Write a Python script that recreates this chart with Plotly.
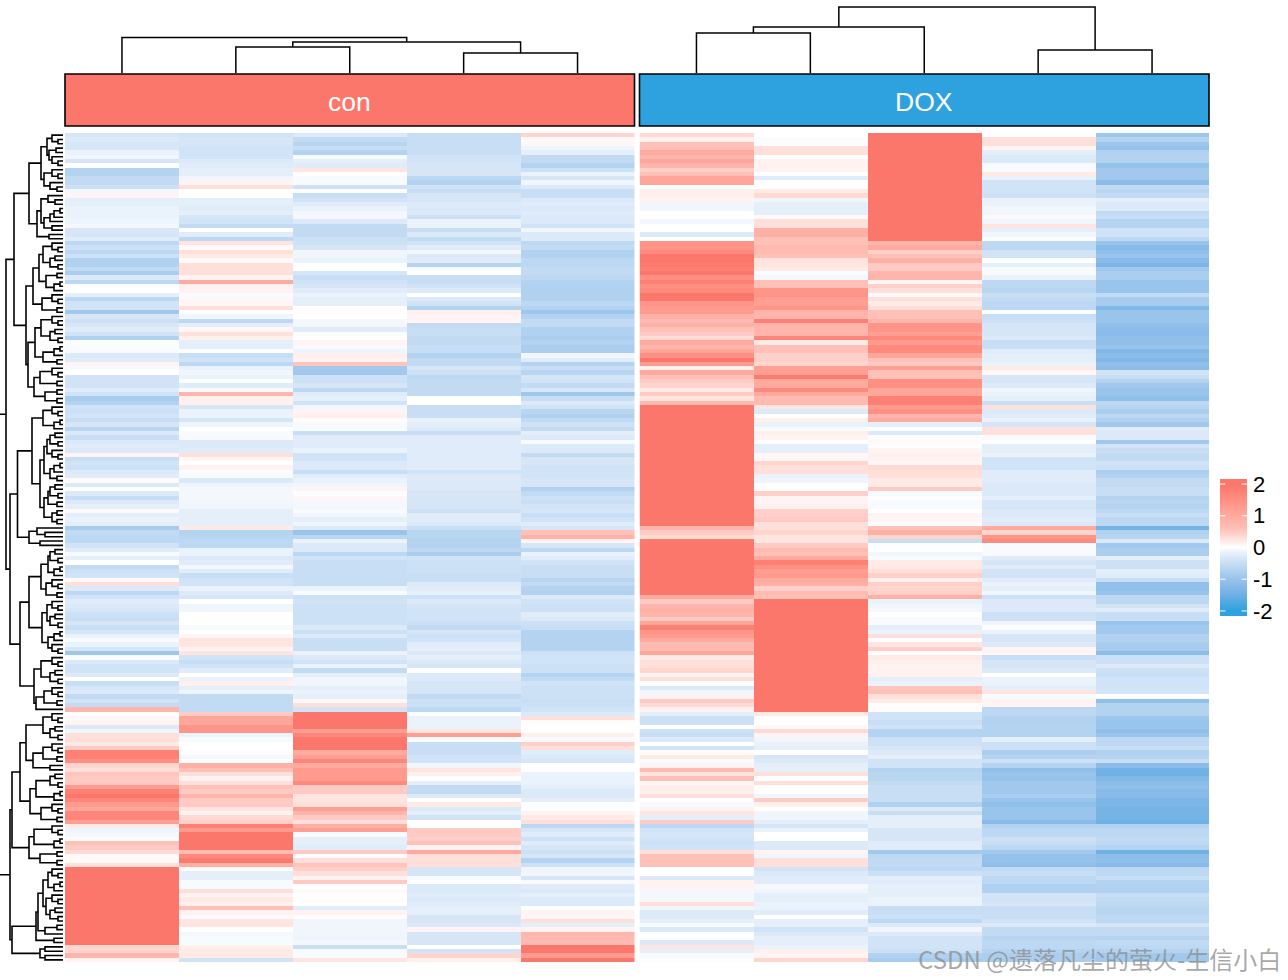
import numpy as np
import plotly.graph_objects as go

W, H = 1288, 980

con1 = [-.35,-.3,-.35,-.35,-.15,-.1,-.35,0,-.7,-.7,-.55,-.55,-.45,-.08,.1,-.2,-.2,-.15,-.15,-.15,-.12,-.08,-.35,-.35,-.25,-.6,-.45,-.6,-.45,-.75,-.75,-.55,-.8,-.3,-.6,.02,0,-.2,-.6,-.4,-.4,-.9,-.35,-.45,-.35,-.25,-.4,
 -.75,-.03,-.03,-.05,-.3,-.25,.1,-.05,0,-.4,-.4,-.4,-.25,-.4,-.85,-.7,-.4,-.45,-.4,-.5,-.35,-.65,-.3,-.5,-.3,-.25,-.3,.1,-.5,-.4,-.45,-.3,-.25,.05,-.3,0,-.3,-.5,-.3,-.2,.06,-.2,-.15,-.2,-.85,-.55,-.6,-.6,-.4,
 -.25,-.05,-.2,0,-.55,-.45,-.4,.05,.3,-.3,-.6,-.4,-.25,-.3,-.35,-.45,-.5,-.35,-.5,-.35,-.15,-.05,-.15,-.35,-.95,-.02,-.3,-.4,-.4,-.3,0,-.5,-.35,-.3,-.55,-.4,-.55,.8,.02,.05,.1,-.3,-.1,.3,.3,.2,.5,1.8,
 1.8,1.5,.4,.3,.55,.5,.5,1.3,1.8,2,1.7,1.3,1.1,1.7,1.7,1.2,.2,-.12,-.08,.03,.6,.5,.35,.05,.05,.3] + [2.15]*18 + [.4,.4,.8,.1]
con2 = [-.4,-.35,-.35,-.4,-.4,-.4,-.3,-.25,-.2,-.2,-.1,.1,.3,0,0,-.2,-.2,-.25,-.2,-.35,-.4,-.55,0,-.25,-.6,.25,.05,.3,.2,.05,.3,.3,.3,.12,1.0,.12,.12,-.05,.08,.08,.3,0,-.1,-.6,-.2,.08,.28,
 .15,-.2,-.2,-.02,-.5,-.4,-.6,-.15,-.1,-.15,-.02,-.25,-.05,.8,.15,.15,-.35,-.15,-.15,-.35,-.12,0,-.05,-.05,-.3,-.3,-.25,.3,.08,0,.12,-.04,-.05,-.3,-.12,-.08,-.08,-.08,-.1,-.1,-.2,-.2,-.2,-.2,.2,-.7,-.65,-.6,-.6,
 -.15,-.15,-.3,-.25,-.08,-.25,-.5,-.4,-.4,-.15,-.3,-.35,0,-.12,-.1,0,0,0,-.05,0,.08,.25,.25,.1,.25,-.4,-.5,-.4,-.25,0,-.15,.15,-.2,-.12,-.55,-.55,-.55,-.55,.5,1.1,1.1,1.4,1.4,-.15,-.05,0,0,.03,
 -.08,0,.9,.6,.3,.12,.3,.6,.5,.8,.5,.5,.25,.12,.35,.45,1.8,1.3,2.15,2.15,2.15,2.15,.7,1.6,1.9,.9,.03,-.2,-.2,-.05,-.05,.3,.12,.2,.15,.6,.12,-.05,.25,.25,0,-.08,-.05,-.05,.15,.2,.2,-.4]
con3 = [-.3,-.55,-.65,-.5,-.7,-.05,-.2,-.25,.25,0,-.05,-.05,-.45,0,-.5,-.4,-.25,-.15,-.08,-.08,-.3,-.55,-.55,-.55,-.45,-.45,-.35,-.1,-.1,-.15,0,0,-.35,-.5,-.4,-.35,-.25,-.15,-.2,-.2,.02,.02,0,-.08,-.08,-.25,-.03,
 0,.1,-.05,-.12,.15,.12,.55,-.9,-.9,-.45,-.45,-.35,-.6,-.25,-.2,-.4,-.1,.1,.15,.03,-.05,-.05,-.5,-.25,-.25,-.25,-.15,-.4,-.4,-.3,-.3,-.5,-.25,-.15,-.1,.1,-.02,.08,-.08,-.08,-.05,-.1,-.2,-.12,-.3,-1.0,-.65,-.15,-.3,
 -.3,-.6,-.4,-.5,-.5,-.5,-.5,-.5,-.5,-.15,-.05,-.45,-.4,-.45,-.45,-.45,-.45,-.45,-.3,-.45,-.3,-.5,-.5,-.5,-.15,-.3,-.4,-.15,-.55,-.2,-.1,-.1,-.2,-.15,-.2,.08,.3,-.4,2.1,2,2,2,1.2,1.7,2,2.1,2.1,1.0,
 1.2,1.7,1,1.3,1.3,1.3,1.6,.5,.5,.25,.25,.3,1.2,.8,.5,.3,.9,1.2,-.05,-.2,-.2,-.25,.5,.02,.3,.55,.45,.3,.12,.5,0,.05,0,.03,0,-.25,.12,.03,-.1,-.1,-.1,-.1,-.12,-.08,-.5,-.05,-.05,.25]
con4 = [-.5,-.5,-.5,-.5,-.5,-.4,-.4,-.35,-.35,-.35,-.6,-.7,-.4,-.5,-.35,-.35,-.3,-.3,-.3,-.45,-.15,-.15,-.5,-.3,-.55,-.4,-.25,-.1,-.3,-.25,-.7,-.05,0,-.5,-.5,-.4,-.3,0,-.3,-.4,-.7,.15,.1,.1,-.55,-.5,-.5,
 -.55,-.55,-.5,-.5,-.7,-.55,-.55,-.35,-.45,-.6,-.55,-.55,-.55,-.55,0,0,-.5,-.5,-.5,-.15,-.2,-.3,-.5,-.25,-.25,-.25,-.25,-.25,-.25,-.25,-.25,-.4,-.3,-.3,-.3,-.3,-.35,-.35,-.35,-.35,-.45,-.25,-.25,-.3,-.5,-.65,-.65,-.7,-.7,
 -.6,-.8,-.4,-.45,-.45,-.45,-.5,-.5,-.3,-.25,-.2,-.45,-.3,-.35,-.4,-.4,-.4,-.45,-.55,-.35,-.45,-.4,-.25,-.2,-.3,-.2,-.3,-.35,0,-.3,-.3,-.35,-.35,-.35,-.55,-.45,-.45,-.6,-.02,-.15,-.15,-.15,.25,1.2,.03,-.5,-.5,-.5,
 -.4,-.4,-.1,.25,.15,0,-.2,-.55,-.55,-.3,0,.2,-.3,-.2,-.4,0,0,.5,.5,.45,.6,.1,1.0,.3,.3,.3,-.35,-.35,-.05,.02,-.3,-.3,-.25,-.3,-.25,-.2,-.2,-.35,-.35,-.3,.1,-.35,-.35,-.35,0,-.4,.4,.15]
con5 = [.4,.05,.08,-.12,-.2,-.55,-.55,-.7,-.45,-.15,-.35,-.1,-.3,-.5,-.5,-.3,-.25,-.3,-.25,-.3,-.3,-.4,-.1,-.3,-.3,-.6,-.55,-.75,-.75,-.6,-.6,-.55,-.55,-.6,-.7,-.75,-.75,-.75,-.75,-.6,-.7,-.95,-.7,-.55,-.55,-.75,-.75,
 -.8,-.7,-.8,-.8,-.1,-.25,-.7,-.5,-.65,-.35,-.4,-.55,-.35,-.95,-.5,-.3,-.4,-.65,-.75,-.55,-.45,-.55,-.2,-.3,-.05,-.3,-.3,-.55,-.35,-.35,-.4,-.4,-.4,-.35,-.35,-.75,-.55,-.45,-.5,-.4,-.35,-.5,-.4,-.25,-.35,.6,.85,.1,-.35,
 -.6,-.15,-.25,-.4,-.5,-.5,-.5,-.65,-.55,-.7,-.75,-.3,-.4,-.45,-.45,-.25,-.3,-.45,-.5,-.7,-.7,-.7,-.7,-.7,-.45,-.4,-.4,-.45,-.45,-.7,-.55,-.4,-.45,-.45,-.45,-.5,-.45,-.4,-.3,.3,.03,0,.02,.15,-.05,.45,.3,-.25,
 -.3,-.35,0,0,-.15,-.15,-.15,-.2,-.3,-.3,-.2,-.02,-.02,.12,.2,.3,-.6,-.35,-.25,-.45,-.25,-.35,-.45,-.35,-.7,-.45,-.1,-.1,-.35,-.05,-.25,-.3,-.2,-.3,-.3,.02,.1,.08,.3,-.2,.1,.8,.7,.7,2,2,1.3,2]
dox1 = [.35,.15,.6,.6,1.0,.8,1.1,.8,.45,.6,1.1,1.1,0,.15,.15,.12,-.1,-.1,0,0,-.08,0,0,-.3,0,1.4,1.4,1.6,2,2,1.9,1.8,2.1,1.5,1.8,1.5,1.6,2,2.1,1.4,1.3,1.3,.9,.7,.9,.6,.5,
 .35,1.0,.8,1.1,1.5,2,1.3,.15,1.0,.6,.5,.4,.2,.5,.25,.7,2.1,2.1,2.1] + [2.15]*25 + [.8,.5,.35,1.9,2,
 2.1,2.1,2.1,2.1,2.1,2.1,2.1,2.1,2.1,2.1,2.1,1.0,.5,.8,.9,.8,.5,1.1,1.8,1.4,1.3,1.0,.7,.7,1.1,.2,.3,.3,.4,.1,.3,0,-.3,-.1,.12,.5,.35,.12,-.2,-.45,-.45,0,-.45,-.5,-.3,0,-.4,.03,
 .2,-.05,.1,.7,.25,.6,.08,.15,.15,.3,0,-.05,.12,.25,-.2,.5,-.6,-.4,-.35,-.4,-.45,-.4,.3,.6,.6,.6,0,0,-.3,.12,.12,-.08,-.08,-.08,.3,-.1,-.3,-.3,-.2,-.05,-.3,.02,.02,-.3,.25,-.2,-.05,-.03]
dox2 = [0,-.03,-.03,.3,.3,0,.12,.12,.12,0,-.25,0,0,.2,.35,-.1,-.2,-.2,-.2,.05,.3,.3,.9,.9,.6,.6,.7,.7,.6,.25,.25,.2,-.03,-.08,.6,.6,1.4,1.4,1.2,1.2,1.4,.8,.8,1.8,.8,.8,.8,
 1.7,.2,.6,.6,.45,.45,.4,1.2,1.2,1.9,1.0,1.0,1.6,1.0,.7,.7,.25,-.3,0,.15,-.15,-.05,.15,.1,0,-.2,-.2,.08,.08,.4,.3,.3,-.15,-.12,0,.02,.45,.1,.1,.15,.45,.45,.5,.3,.3,.4,.25,.25,.5,
 .7,.6,1.0,1.8,1.5,1.2,1.3,1.0,.9,.45,.7,.6] + [2.15]*26 + [.2,0,0,.05,.35,.1,-.1,-.15,-.2,.02,
 -.35,-.3,-.2,-.2,.3,-.02,.3,.02,0,-.1,.5,.15,0,-.1,-.1,-.2,-.35,-.15,0,0,-.3,-.3,.1,-.1,.3,.3,-.4,-.3,-.25,-.25,-.08,-.1,-.2,-.2,-.15,-.15,-.25,0,-.2,-.2,-.4,-.3,-.2,-.2,-.15,.15,.1,.4]
dox3 = [2.15]*25 + [.8,1.0,.45,.6,.9,.5,.5,.8,.8,.08,.45,.3,.05,.3,.2,.3,.6,.6,.8,1.4,1.4,1.2,
 1.6,1.3,1.6,1.6,1.1,.6,.5,1.2,.6,.6,1.5,1.5,1.1,1.1,1.8,1.8,1.3,1.5,.8,1.0,-.2,-.02,-.3,.02,.05,-.02,.1,.15,.1,.08,.35,.3,.3,.2,.2,.5,-.05,.02,-.05,-.05,0,.1,.08,-.03,.6,.9,.4,-.5,-.02,
 0,-.1,-.05,.2,.2,.3,.45,.15,.45,.4,.45,.9,-.15,-.1,-.08,0,-.05,-.05,-.2,-.15,.3,0,.25,.45,0,.2,.15,.12,.12,.12,-.2,-.15,.55,.6,.3,.2,.02,.03,-.4,-.4,-.5,-.4,-.7,-.7,-.45,-.45,-.35,-.3,
 -.2,-.4,-.4,-.7,-.65,-.65,-.55,-.5,-.5,-.5,-.5,-.75,-.3,-.5,-.2,-.2,-.2,-.35,-.35,-.35,-.25,-.25,-.9,-.6,-.55,-.55,-.6,-.45,-.2,-.25,-.2,-.2,-.2,-.15,-.15,-.5,-.5,-.45,-.6,-.3,-.1,-.3,-.4,-.4,-.4,-.45,-.75,-.85]
dox4 = [.02,.3,.3,.1,-.2,-.3,-.3,-.05,-.05,.2,-.15,-.4,-.4,-.4,-.45,-.15,-.15,-.1,-.1,.05,-.1,.25,-.2,-.1,-.02,-.6,-.6,-.4,-.4,0,-.2,-.05,-.05,-.15,-.6,-.6,-.65,-.5,-.55,-.6,-.6,-.02,-.5,-.45,-.35,-.35,-.35,
 -.3,-.5,-.5,-.25,-.2,-.2,-.15,.2,.08,-.35,-.35,-.3,-.1,-.15,-.2,-.5,.3,-.3,-.25,-.15,-.35,.3,.3,-.05,-.02,-.2,-.2,-.15,-.4,-.4,-.4,-.25,-.25,-.25,-.3,-.3,-.3,-.2,-.35,-.35,-.3,-.3,-.25,-.3,1.0,.4,1.4,1.6,-.05,
 -.05,-.05,-.25,-.35,-.25,-.4,-.4,-.25,-.15,-.2,-.1,-.45,-.3,-.3,-.3,-.45,-.45,-.1,-.02,-.15,-.35,-.35,-.3,.1,.1,-.5,-.35,-.35,-.3,0,-.15,-.15,-.2,.25,-.05,.1,.1,-.6,-.6,-.7,-.75,-.7,-.7,-.7,-.2,-.45,-.45,-.8,
 -.7,-.45,-.7,-1.1,-1.0,-1.05,-.9,-.9,-.9,-.8,-1,-1.1,-1,-1,-1,-1.2,-.7,-.6,-.6,-.45,-.5,-.6,-.9,-1.05,-1.05,-1.1,-.55,-.5,-.6,-.6,-.75,-.75,-.4,-.4,-.35,-.5,-.5,-.5,-.4,-.3,-.55,-.55,-.65,-.6,-.6,-.7,-.8,-.8]
dox5 = [-.95,-.7,-.95,-1.05,-.75,-.7,-.7,-1.05,-.9,-.9,-.9,-1.15,-.55,-.65,-.55,-.2,-.3,-.3,-.55,-.5,-.7,-.7,-.4,-.4,-.6,-1,-1.2,-1.1,-1.0,-1.2,-1.35,-.9,-.8,-.8,-1.0,-1.0,-1,-.55,-.85,-.85,-1.3,-1,-1,-1,-1.1,-1.15,-1.2,
 -1.1,-1.1,-1,-1.3,-1.15,-1.3,-1.1,-1.15,-.4,-.5,-.7,-.9,-1,-1,-1.1,-.6,-.65,-.8,-.6,-.75,-.9,-.25,-.3,-.3,-.9,-.4,-.5,-.55,-.55,-.4,-.45,-.8,-.7,-.55,-.55,-.5,-.5,-.7,-.65,-.7,-.6,-.5,-.6,-.6,-1.4,-.75,-.65,-.3,-.9,
 -.8,-.8,-.2,-.45,-.45,-.2,-.25,-.5,-1.1,-1.1,-1,-.6,-.6,-.4,-.25,-.5,-.5,-1,-.9,-.9,-.75,-.75,-.85,-.85,-1.15,-.45,-.45,-.3,-.45,-.5,-.4,-.4,-.4,-.35,0,-1.1,-.7,-.7,-.7,-.95,-1,-1,-1.1,-1.0,-.6,-.6,-.5,-.75,
 -.7,-.5,-1.15,-1.45,-1.5,-1.3,-1.15,-1.1,-1.2,-1.2,-1.35,-1.35,-1.4,-1.4,-1.4,-1.5,-.7,-.6,-.6,-.55,-.6,-.7,-1.5,-1.15,-1.1,-1.2,-.6,-.6,-.5,-.7,-.75,-.75,-.5,-.55,-.6,-.65,-.65,-.6,-.6,-.35,-.55,-.55,-.7,-.55,-.6,-.7,-.9,-.9]

columns_con = [con1, con2, con3, con4, con5]
columns_dox = [dox1, dox2, dox3, dox4, dox5]
groups = ["con", "DOX"]
legend_ticks = [2, 1, 0, -1, -2]
legend_labels = ["2", "1", "0", "-1", "-2"]

# column dendrograms: (height, left, right), leaves are column numbers
con_tree = (35.5, 0, (31, (26, 1, 2), (20, 3, 4)))
dox_tree = (66, (46, (40, 0, 1), 2), (23, 3, 4))

# row dendrogram: (position, upper, lower), 1 is one row
P = (57, 1, 1)
T = (52, 1, (58, 1, 1))
T2 = (54, (60, 1, 1), 1)
Q = (50, (55, 1, 1), (58, 1, 1))
U1a = (29,
       (41, (47, T, (49, (56, 1, 1), T)), (44, T, (50, 1, (57, 1, 1)))),
       (37, (41, (48, 1, (55, 1, 1)), (44, (50, (54, (60, 1, 1), 1), 1), (52, 1, 1))), (49, 1, 1)))
U1b = (26,
       (33, (39, (43, T, Q), (46, P, T2)), (42, T, P)),
       (28, (35, (41, T, Q), (43, T2, P)), (34, (40, T, P), (45, P, P))))
U2a = (17.5,
       (32, (43, T, T2), (40, (44, (47, Q, T), (50, T2, P)), (44, (48, Q, P), (52, P, P)))),
       (29, (37, 1, (45, 1, 1)), (40, 1, 1)))
U2b = (20,
       (29, (41, (48, Q, T2), (46, T, P)), (42, (47, T, Q), (48, T2, T))),
       (34, (41, T, Q), (36, (44, T, P), 1)))
L1 = (12,
      (20, (26, (43, T, Q), (33, (43, T, P), (50, 1, 1))), (30, (36, Q, T2), (41, T, P))),
      (29, (34, T, T2), (40, P, P)))
L2 = (12,
      (36, (38, (43, (48, T, T2), (46, T, Q)), (45, P, 1)), (54, 1, 1)),
      (40, (45, 1, 1), (45, 1, 1)))
row_tree = (-5, (6, (14, U1a, U1b), (10, U2a, U2b)), (10, L1, L2))

stops = [(-2.16, "#2EA2DF"), (-2, "#2EA2DF"), (-1.5, "#6FB0E5"), (-1.1, "#90BFEA"), (-.8, "#ABCEEE"),
         (-.55, "#C2DBF3"), (-.35, "#D6E6F7"), (-.15, "#EAF2FB"), (0, "#FFFFFF"), (.3, "#FFDFDA"),
         (.6, "#FFC0B7"), (1, "#FFAA9F"), (1.5, "#FF8F83"), (2, "#FB766B"), (2.16, "#FB766B")]
colorscale = [[(v + 2.16) / 4.32, c] for v, c in stops]

lens = [len(c) for c in columns_con + columns_dox]
assert len(set(lens)) == 1, lens
z_con = np.array(columns_con, dtype=float).T
z_dox = np.array(columns_dox, dtype=float).T
nrows = z_con.shape[0]
rows = list(range(nrows))


def px_x(a, b):
    return [a / W, b / W]


def px_y(top, bottom):
    return [1 - bottom / H, 1 - top / H]


def walk_rows(node, counter, xs, ys):
    if node == 1:
        y = counter[0]
        counter[0] += 1
        return 63.0, float(y)
    pos, a, b = node
    xa, ya = walk_rows(a, counter, xs, ys)
    xb, yb = walk_rows(b, counter, xs, ys)
    xs += [xa, pos, pos, xb, None]
    ys += [ya, ya, yb, yb, None]
    return pos, (ya + yb) / 2


def walk_cols(node, xs, ys):
    if not isinstance(node, tuple):
        return float(node), 0.0
    h, a, b = node
    xa, ha = walk_cols(a, xs, ys)
    xb, hb = walk_cols(b, xs, ys)
    xs += [xa, xa, xb, xb, None]
    ys += [ha, h, h, hb, None]
    return (xa + xb) / 2, h


fig = go.Figure()
for name, z, xa in [(groups[0], z_con, "x"), (groups[1], z_dox, "x2")]:
    fig.add_trace(go.Heatmap(z=z, x=list(range(5)), y=rows, xaxis=xa, yaxis="y", colorscale=colorscale,
                             zmin=-2.16, zmax=2.16, showscale=False, name=name))

for tree, xa in [(con_tree, "x"), (dox_tree, "x2")]:
    xs, ys = [], []
    walk_cols(tree, xs, ys)
    fig.add_trace(go.Scatter(x=xs, y=ys, xaxis=xa, yaxis="y2", mode="lines", showlegend=False,
                             line=dict(color="black", width=1.5), cliponaxis=False))

xs, ys = [], []
walk_rows(row_tree, [0], xs, ys)
fig.add_trace(go.Scatter(x=xs, y=ys, xaxis="x3", yaxis="y", mode="lines", showlegend=False,
                         line=dict(color="black", width=1.6)))

# legend
legend_levels = list(np.linspace(-2.16, 2.16, 137))
fig.add_trace(go.Heatmap(z=[[v] for v in legend_levels], x=[0], y=legend_levels, xaxis="x4", yaxis="y3",
                         colorscale=colorscale, zmin=-2.16, zmax=2.16, showscale=False))
for a, b in [(0, .2), (.8, 1)]:
    dx, dy = [], []
    for t in legend_ticks:
        dx += [a - .5, b - .5, None]
        dy += [t, t, None]
    fig.add_trace(go.Scatter(x=dx, y=dy, xaxis="x4", yaxis="y3", mode="lines", showlegend=False,
                             line=dict(color="white", width=1)))

hidden = dict(visible=False, showgrid=False, zeroline=False)
fig.update_layout(
    width=W, height=H, autosize=False, margin=dict(l=0, r=0, t=0, b=0, autoexpand=False),
    paper_bgcolor="white", plot_bgcolor="white", showlegend=False,
    font=dict(family="Liberation Sans, Arial, sans-serif", color="black"),
    xaxis=dict(domain=px_x(65, 634.5), range=[-.5, 4.5], **hidden),
    xaxis2=dict(domain=px_x(639.5, 1209), range=[-.5, 4.5], **hidden),
    xaxis3=dict(domain=px_x(0, 63), range=[0, 63], **hidden),
    xaxis4=dict(domain=px_x(1220, 1247), range=[-.5, .5], anchor="y3", **hidden),
    yaxis=dict(domain=px_y(133, 962), range=[nrows - .5, -.5], **hidden),
    yaxis2=dict(domain=px_y(0, 73), range=[0, 73], anchor="x", **hidden),
    yaxis3=dict(domain=px_y(479, 616), range=[-2.16, 2.16], anchor="x4", side="right", showgrid=False,
                zeroline=False, showline=False, ticks="", tickvals=legend_ticks, ticktext=legend_labels,
                tickfont=dict(size=22, color="black"), ticklabelstandoff=5),
    shapes=[
        dict(type="rect", xref="x domain", yref="paper", x0=0, x1=1, y0=px_y(74, 126)[0], y1=px_y(74, 126)[1],
             fillcolor="#FB766B", line=dict(color="black", width=1.6), layer="above"),
        dict(type="rect", xref="x2 domain", yref="paper", x0=0, x1=1, y0=px_y(74, 126)[0], y1=px_y(74, 126)[1],
             fillcolor="#2EA2DF", line=dict(color="black", width=1.6), layer="above"),
    ],
    annotations=[
        dict(text=groups[0], xref="x domain", yref="paper", x=.5, y=1 - 102.5 / H, yanchor="middle", showarrow=False,
             font=dict(size=26.5, color="white")),
        dict(text=groups[1], xref="x2 domain", yref="paper", x=.5, y=1 - 102.5 / H, yanchor="middle", showarrow=False,
             font=dict(size=26.5, color="white")),
        dict(text="CSDN @遗落凡尘的萤火-生信小白", xref="paper", yref="paper", x=1283 / W, y=1 - 958 / H,
             xanchor="right", yanchor="middle", showarrow=False,
             font=dict(size=24, color="rgba(140,140,140,0.75)", family="Noto Sans CJK SC")),
    ],
)
fig.write_html("out.html", config={"displayModeBar": False}, post_script="document.body.style.margin='0';")
